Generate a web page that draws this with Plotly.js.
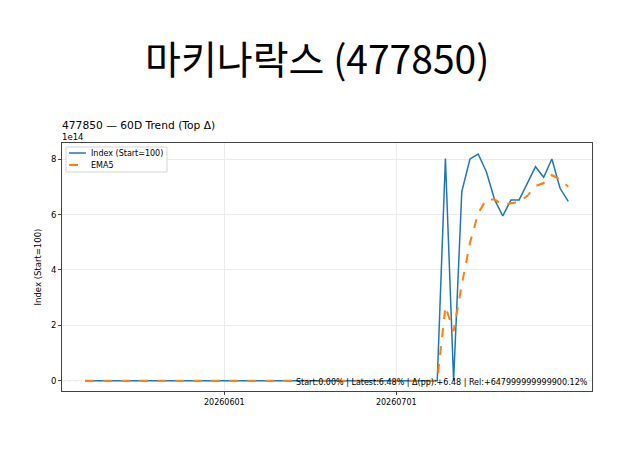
<!DOCTYPE html>
<html>
<head>
<meta charset="utf-8">
<script src="https://cdn.plot.ly/plotly-3.0.1.min.js"></script>
<style>html,body{margin:0;padding:0;background:#fff;}#chart{width:630px;height:472px;}</style>
</head>
<body>
<div id="chart"></div>
<script>
// Trading dates (x categories)
const dates = [
  '20260506','20260507','20260508','20260511','20260512','20260513','20260514','20260515',
  '20260518','20260519','20260520','20260521','20260522','20260526','20260527','20260528','20260529',
  '20260601','20260602','20260604','20260605','20260608','20260609','20260610','20260611','20260612',
  '20260615','20260616','20260617','20260618','20260619','20260622','20260623','20260624','20260625','20260626',
  '20260629','20260630',
  '20260701','20260702','20260703','20260706','20260707','20260708','20260709','20260710',
  '20260713','20260714','20260715','20260716','20260717','20260720','20260721','20260722','20260723','20260724',
  '20260727','20260728','20260729','20260730'
];
// Index (Start=100)
const indexVals = [
  100,100,100,100,100,100,100,100,100,100,
  100,100,100,100,100,100,100,100,100,100,
  100,100,100,100,100,100,100,100,100,100,
  100,100,100,100,100,100,100,100,100,100,
  100,100,100,100,
  8.03e14, 100, 6.83e14, 8.01e14, 8.19e14, 7.55e14, 6.55e14, 5.95e14, 6.53e14, 6.53e14,
  7.13e14, 7.73e14, 7.35e14, 8.01e14, 6.95e14, 6.48e14
];
// EMA5
const emaVals = [
  100,100,100,100,100,100,100,100,100,100,
  100,100,100,100,100,100,100,100,100,100,
  100,100,100,100,100,100,100,100,100,100,
  100,100,100,100,100,100,100,100,100,100,
  100,100,100,100,
  2.68e14, 1.79e14, 3.47e14, 4.98e14, 6.05e14, 6.55e14, 6.55e14, 6.35e14, 6.41e14, 6.45e14,
  6.68e14, 7.03e14, 7.14e14, 7.43e14, 7.27e14, 7.01e14
];
const xTickVals = ['20260601','20260701'];
const yTickVals = [0, 2e14, 4e14, 6e14, 8e14];
const yTickText = ['0','2','4','6','8'];
const baseline = 100;
const seriesNames = ['Index (Start=100)', 'EMA5'];
const seriesColors = ['#1f77b4', '#ff7f0e'];
const mainTitle = '마키나락스 (477850)';
const subTitle = '477850 — 60D Trend (Top Δ)';
const statsText = 'Start:0.00% | Latest:6.48% | Δ(pp):+6.48 | Rel:+647999999999900.12%';

const traces = [
  {x: dates, y: indexVals, type: 'scatter', mode: 'lines', name: seriesNames[0],
   line: {color: seriesColors[0], width: 1.5}},
  {x: dates, y: emaVals, type: 'scatter', mode: 'lines', name: seriesNames[1],
   line: {color: seriesColors[1], width: 2, dash: 'dash'}}
];

// paper-coordinate helpers for the figure frame (plot area: x 62..592, y 143..391)
const px = v => (v - 62) / 530;
const py = v => (391 - v) / 248;

const font = 'DejaVu Sans, sans-serif';
const layout = {
  width: 630, height: 472,
  margin: {l: 62, r: 38, t: 143, b: 81},
  paper_bgcolor: '#fff', plot_bgcolor: '#fff',
  font: {family: font, size: 8, color: '#000'},
  showlegend: false,
  xaxis: {type: 'category', range: [-2.82, 61.9], tickvals: xTickVals, ticktext: xTickVals,
          showgrid: true, gridcolor: '#ebebeb', gridwidth: 1,
          showline: true, mirror: true, linecolor: '#444', linewidth: 1,
          ticks: 'outside', ticklen: 3, tickcolor: '#444', zeroline: false,
          tickfont: {family: font, size: 8}},
  yaxis: {range: [-0.372e14, 8.587e14], tickvals: yTickVals, ticktext: yTickText,
          showgrid: true, gridcolor: '#ebebeb', gridwidth: 1,
          showline: true, mirror: true, linecolor: '#444', linewidth: 1,
          ticks: 'outside', ticklen: 3, tickcolor: '#444', zeroline: false,
          tickfont: {family: font, size: 8.5},
          title: {text: 'Index (Start=100)', font: {family: font, size: 8.5}, standoff: 7}},
  shapes: [
    {type: 'line', xref: 'paper', x0: 0, x1: 1, yref: 'y', y0: baseline, y1: baseline,
     line: {color: 'rgba(31,119,180,0.35)', width: 1, dash: 'dot'}, layer: 'below'},
    // legend box
    {type: 'rect', xref: 'paper', yref: 'paper', x0: px(66), x1: px(167), y0: py(172), y1: py(147),
     fillcolor: 'rgba(255,255,255,0.85)', line: {color: '#d5d5d5', width: 1}},
    {type: 'line', xref: 'paper', yref: 'paper', x0: px(69), x1: px(86), y0: py(153), y1: py(153),
     line: {color: seriesColors[0], width: 1.5}},
    {type: 'line', xref: 'paper', yref: 'paper', x0: px(69), x1: px(86), y0: py(165), y1: py(165),
     line: {color: seriesColors[1], width: 2, dash: 'dash'}}
  ],
  annotations: [
    {text: mainTitle, xref: 'paper', yref: 'paper', x: px(317), y: py(57), xanchor: 'center', yanchor: 'middle',
     showarrow: false, font: {family: 'Noto Sans CJK KR, sans-serif', size: 39, color: '#000'}},
    {text: subTitle, xref: 'paper', yref: 'paper', x: 0, y: py(125), xanchor: 'left', yanchor: 'middle',
     showarrow: false, xshift: -2, font: {family: font, size: 10.7, color: '#000'}},
    {text: '1e14', xref: 'paper', yref: 'paper', x: 0, y: py(137), xanchor: 'left', yanchor: 'middle',
     showarrow: false, xshift: -2, font: {family: font, size: 8.5, color: '#000'}},
    {text: seriesNames[0], xref: 'paper', yref: 'paper', x: px(91), y: py(153), xanchor: 'left', yanchor: 'middle',
     showarrow: false, xshift: -2, font: {family: font, size: 8, color: '#000'}},
    {text: seriesNames[1], xref: 'paper', yref: 'paper', x: px(91), y: py(165), xanchor: 'left', yanchor: 'middle',
     showarrow: false, xshift: -2, font: {family: font, size: 8, color: '#000'}},
    {text: statsText, xref: 'paper', yref: 'paper', x: px(590), y: py(382), xanchor: 'right', yanchor: 'middle',
     showarrow: false, font: {family: font, size: 8, color: '#000'}}
  ]
};
Plotly.newPlot('chart', traces, layout, {displayModeBar: false, staticPlot: true});
</script>
</body>
</html>
